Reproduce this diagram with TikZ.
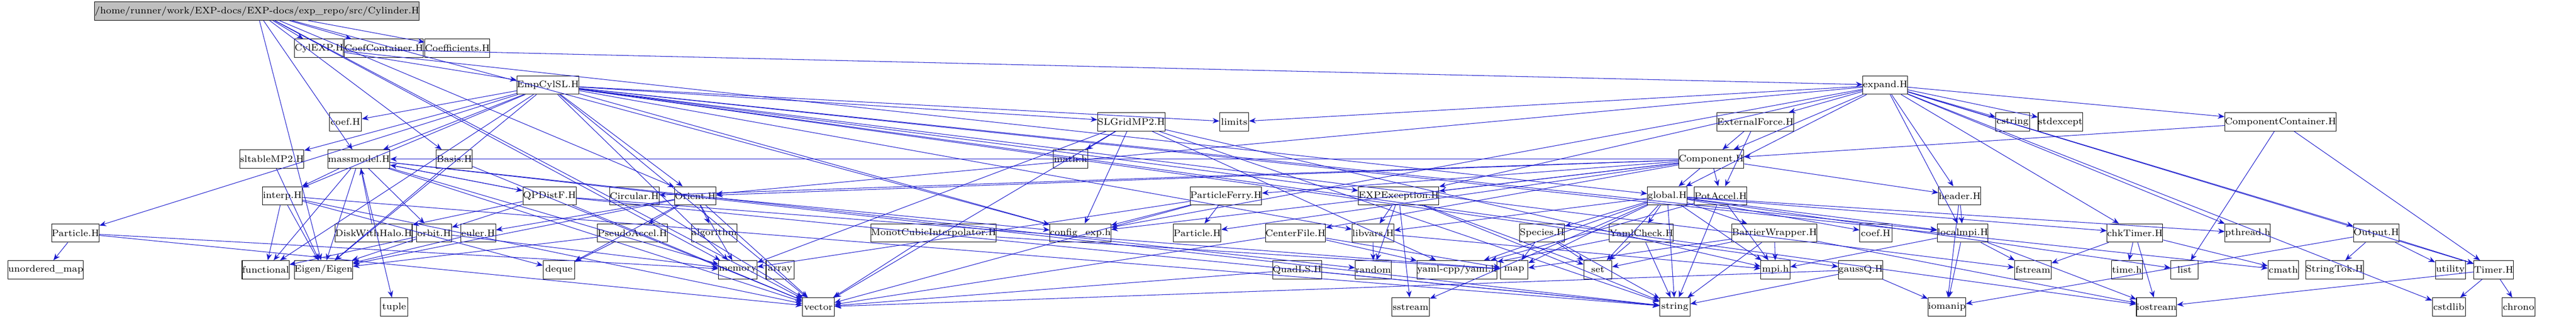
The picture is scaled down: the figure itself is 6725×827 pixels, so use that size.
\documentclass[tikz,border=0pt]{standalone}
\usetikzlibrary{arrows.meta}
\definecolor{edge}{rgb}{0.1,0.1,0.8}
\tikzset{box/.style={draw=black,fill=white,inner sep=0pt,minimum height=0.48cm,font=\fontsize{7}{8}\selectfont},
 e/.style={draw=edge,-{Stealth[length=5pt,width=4pt]},line width=0.4pt}}
\newcommand{\nd}[5]{\node[box,minimum width={(#3-#2)*0.01cm}] (#1) at ({(#2+#3)/2},{827-#4}) {#5};}
\begin{document}
\begin{tikzpicture}[x=0.01cm,y=0.01cm]
\useasboundingbox (0,0) rectangle (6725,827);
\node[box,fill=gray!50,minimum width=6.27cm] (cyl) at (671,798) {/home/runner/work/EXP-docs/EXP-docs/exp\_repo/src/Cylinder.H};
\nd{cylexp}{778}{888}{126}{CylEXP.H}
\nd{coefc}{913}{1091}{126}{CoefContainer.H}
\nd{coeffs}{1116}{1272}{126}{Coefficients.H}
\nd{empcyl}{1359}{1502}{222}{EmpCylSL.H}
\nd{expand}{4865}{4978}{222}{expand.H}
\nd{coefA}{860}{944}{318}{coef.H}
\nd{slgrid}{2876}{3031}{318}{SLGridMP2.H}
\nd{limits}{3184}{3260}{318}{limits}
\nd{extf}{4493}{4672}{318}{ExternalForce.H}
\nd{cstring}{5210}{5298}{318}{cstring}
\nd{stdexc}{5322}{5436}{318}{stdexcept}
\nd{compc}{5832}{6075}{318}{ComponentContainer.H}
\nd{sltable}{634}{786}{415}{sltableMP2.H}
\nd{mass}{862}{1012}{415}{massmodel.H}
\nd{basis}{1139}{1233}{415}{Basis.H}
\nd{mathh}{2750}{2840}{415}{math.h}
\nd{comp}{4391}{4544}{415}{Component.H}
\nd{interp}{685}{789}{511}{interp.H}
\nd{qpd}{1373}{1496}{511}{QPDistF.H}
\nd{circ}{1597}{1715}{511}{Circular.H}
\nd{orient}{1762}{1868}{511}{Orient.H}
\nd{pferry}{3117}{3284}{511}{ParticleFerry.H}
\nd{expexc}{3562}{3741}{511}{EXPException.H}
\nd{global}{4301}{4404}{511}{global.H}
\nd{potacc}{4429}{4555}{511}{PotAccel.H}
\nd{header}{5063}{5169}{511}{header.H}
\nd{partA}{138}{256}{608}{Particle.H}
\nd{disk}{888}{1063}{608}{DiskWithHalo.H}
\nd{orbit}{1088}{1179}{608}{orbit.H}
\nd{euler}{1203}{1294}{608}{euler.H}
\nd{pseudo}{1570}{1732}{608}{PseudoAccel.H}
\nd{algo}{1807}{1922}{608}{algorithm}
\nd{monot}{2301}{2573}{608}{MonotCubicInterpolator.H}
\nd{config}{2750}{2891}{608}{config\_exp.h}
\nd{partB}{3066}{3185}{608}{Particle.H}
\nd{center}{3309}{3455}{608}{CenterFile.H}
\nd{libvars}{3530}{3639}{608}{libvars.H}
\nd{species}{3968}{4084}{608}{Species.H}
\nd{yamlc}{4211}{4359}{608}{YamlCheck.H}
\nd{barrier}{4536}{4729}{608}{BarrierWrapper.H}
\nd{coefB}{4855}{4939}{608}{coef.H}
\nd{localmpi}{5063}{5185}{608}{localmpi.H}
\nd{chk}{5509}{5638}{608}{chkTimer.H}
\nd{pthread}{5811}{5925}{608}{pthread.h}
\nd{output}{6149}{6258}{608}{Output.H}
\nd{umap}{34}{205}{704}{unordered\_map}
\nd{func}{634}{753}{704}{functional}
\nd{eigen}{775}{914}{704}{Eigen/Eigen}
\nd{deque}{1418}{1500}{704}{deque}
\nd{memory}{1876}{1976}{704}{memory}
\nd{array}{2000}{2073}{704}{array}
\nd{quadls}{3327}{3446}{704}{QuadLS.H}
\nd{random}{3538}{3632}{704}{random}
\nd{yaml}{3714}{3893}{704}{yaml-cpp/yaml.h}
\nd{map}{3917}{3989}{704}{map}
\nd{set}{4135}{4208}{704}{set}
\nd{mpih}{4597}{4673}{704}{mpi.h}
\nd{gauss}{4801}{4914}{704}{gaussQ.H}
\nd{fstream}{5259}{5355}{704}{fstream}
\nd{timeh}{5512}{5593}{704}{time.h}
\nd{list}{5667}{5739}{704}{list}
\nd{cmath}{5921}{6001}{704}{cmath}
\nd{strtok}{6026}{6163}{704}{StringTok.H}
\nd{utility}{6358}{6436}{704}{utility}
\nd{timer}{6461}{6559}{704}{Timer.H}
\nd{tuple}{993}{1065}{801}{tuple}
\nd{vector}{2095}{2178}{801}{vector}
\nd{sstream}{3633}{3732}{801}{sstream}
\nd{string}{4333}{4412}{801}{string}
\nd{iomanip}{5034}{5131}{801}{iomanip}
\nd{iostream}{5578}{5682}{801}{iostream}
\nd{cstdlib}{6350}{6436}{801}{cstdlib}
\nd{chrono}{6532}{6618}{801}{chrono}
\foreach \a/\b in {cyl/cylexp,cyl/coefc,cyl/coeffs,cyl/basis,cyl/mass,cyl/orient,cyl/eigen,cyl/vector,cyl/memory,cyl/config,
 cylexp/empcyl,cylexp/expand,cylexp/global,
 empcyl/coefA,empcyl/partA,empcyl/sltable,empcyl/mass,empcyl/interp,empcyl/slgrid,empcyl/eigen,empcyl/func,empcyl/vector,empcyl/memory,empcyl/limits,empcyl/config,empcyl/libvars,empcyl/expexc,empcyl/localmpi,empcyl/fstream,empcyl/iostream,empcyl/cmath,empcyl/gauss,empcyl/orient,
 mass/interp,mass/orbit,mass/eigen,mass/qpd,mass/tuple,mass/vector,mass/memory,mass/random,mass/string,mass/func,
 disk/mass,qpd/mass,qpd/orbit,qpd/disk,qpd/map,qpd/string,qpd/vector,
 orbit/eigen,orbit/func,orbit/memory,euler/eigen,interp/eigen,interp/func,interp/deque,interp/vector,interp/string,
 sltable/eigen,basis/eigen,basis/vector,partA/umap,partA/vector,partA/memory,circ/vector,
 orient/algo,orient/eigen,orient/pseudo,orient/deque,orient/memory,orient/vector,orient/config,orient/euler,
 pseudo/deque,pseudo/eigen,monot/vector,monot/map,
 slgrid/mathh,slgrid/config,slgrid/vector,slgrid/mpih,slgrid/string,slgrid/yaml,slgrid/memory,
 expand/extf,expand/comp,expand/global,expand/compc,expand/cstring,expand/stdexc,expand/limits,expand/orient,expand/header,expand/localmpi,expand/output,expand/pthread,expand/timer,expand/chk,expand/cstdlib,expand/expexc,expand/config,
 extf/comp,extf/potacc,
 comp/global,comp/potacc,comp/expexc,comp/pferry,comp/center,comp/orient,comp/header,comp/partB,comp/config,comp/mass,comp/circ,
 global/libvars,global/species,global/yamlc,global/barrier,global/coefB,global/yaml,global/map,global/set,global/mpih,global/string,global/chk,global/pthread,global/localmpi,global/list,global/sstream,
 potacc/string,potacc/yaml,potacc/mpih,
 expexc/libvars,expexc/random,expexc/set,expexc/string,expexc/sstream,
 libvars/random,libvars/mpih,species/map,species/set,species/string,yamlc/set,yamlc/string,yamlc/yaml,
 barrier/mpih,barrier/string,barrier/iostream,barrier/set,barrier/map,
 localmpi/mpih,localmpi/fstream,localmpi/iostream,localmpi/iomanip,
 chk/timeh,chk/iostream,chk/fstream,chk/cmath,
 output/strtok,output/utility,output/timer,output/iomanip,compc/list,compc/timer,compc/comp,
 timer/chrono,timer/cstdlib,timer/iostream,header/localmpi,header/iomanip,
 gauss/string,gauss/vector,gauss/iomanip,pferry/partB,pferry/memory,pferry/vector,pferry/config,
 center/yaml,center/map,center/vector,quadls/vector,quadls/string}
 \draw[e] (\a) -- (\b);
\end{tikzpicture}
\end{document}
